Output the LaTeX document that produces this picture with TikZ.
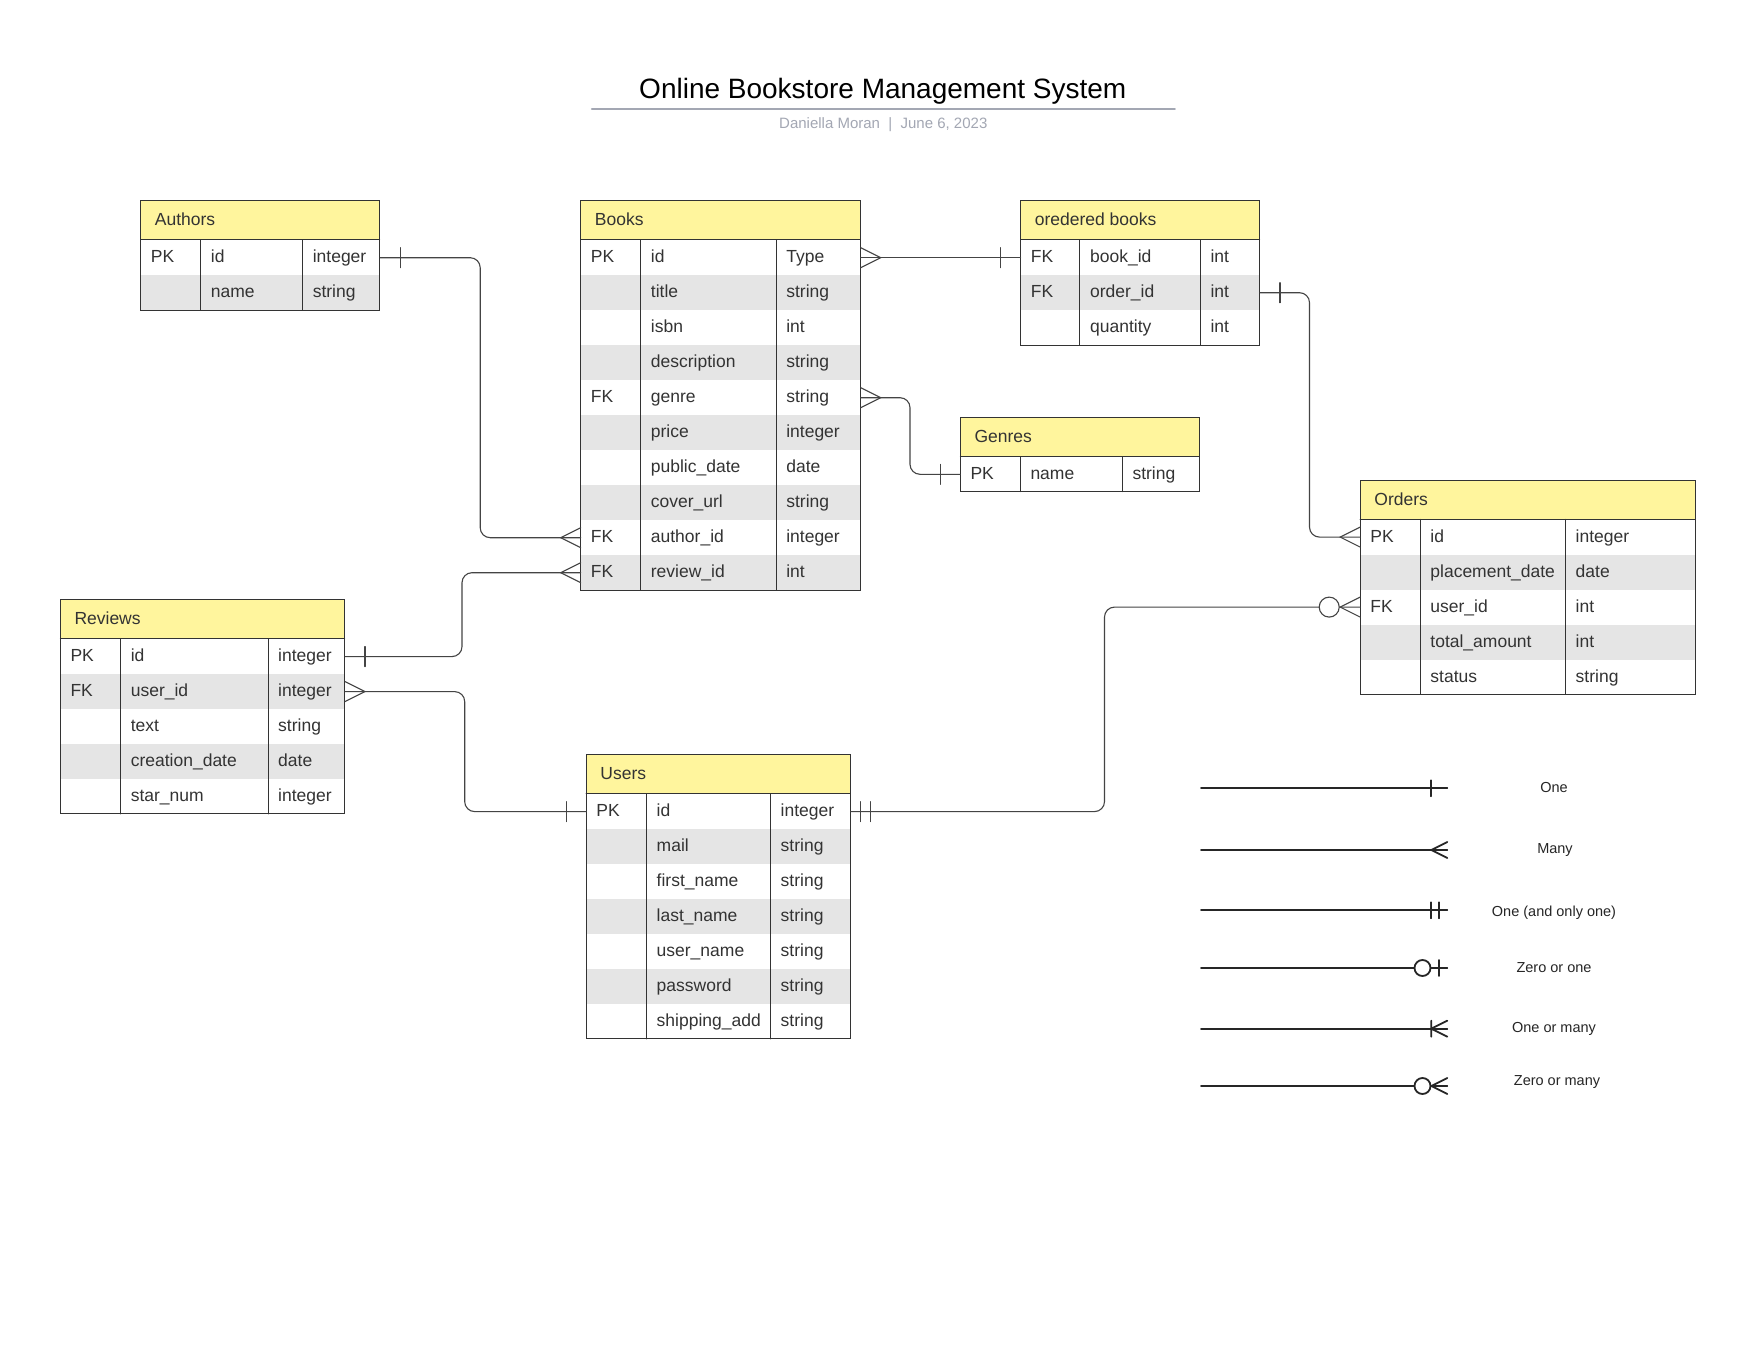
\documentclass[tikz,border=0pt]{standalone}
\usepackage{fontspec}
\setmainfont{Liberation Sans}

\definecolor{headyellow}{HTML}{FFF59D}
\definecolor{rowgray}{HTML}{E5E5E5}
\definecolor{inkgray}{HTML}{333333}
\definecolor{linkgray}{HTML}{444444}
\definecolor{rulegray}{HTML}{A3A7B3}

% Crow's foot marks, drawn from the table edge outwards along +x.
\tikzset{
    erone/.pic = {\draw[markline] (20,-10) -- (20,10);},
    eronlyone/.pic = {\draw[markline] (10,-10) -- (10,10) (20,-10) -- (20,10);},
    ermany/.pic = {\draw[markline] (0,-10) -- (20,0) -- (0,10);},
    eronemany/.pic = {\draw[markline] (0,-10) -- (20,0) -- (0,10) (20,-10) -- (20,10);},
    erzeroone/.pic = {\draw[markline] (10,-10) -- (10,10);
        \draw[markline, fill = white] (31,0) circle[radius = 10];},
    erzeromany/.pic = {\draw[markline] (0,-10) -- (20,0) -- (0,10);
        \draw[markline, fill = white] (31,0) circle[radius = 10];},
}

% Table: name, left, top, key width, field width, type width, title, rows.
\newcommand{\erdtable}[8]{%
    \pgfmathsetmacro{\erdw}{#4+#5+#6}
    \node[headbox, minimum width = \erdw pt] (#1-head) at (#2,#3) {};
    \node[celltext] (#1-title) at ([xshift = 14pt]#1-head.west) {#7};
    \foreach \key/\fld/\typ [count = \i] in {#8} {
        \ifodd\i \def\erdfill{white}\else \def\erdfill{rowgray}\fi
        \node[rowbox, fill = \erdfill, minimum width = \erdw pt] (#1-\i) at (#2,#3+39+35*\i-35) {};
        \node[celltext] (#1-\i-key) at ([xshift = 10pt]#1-\i.west) {\key};
        \node[celltext] (#1-\i-field) at ([xshift = #4pt+10pt]#1-\i.west) {\fld};
        \node[celltext] (#1-\i-type) at ([xshift = #4pt+#5pt+10pt]#1-\i.west) {\typ};
        \xdef\erdrows{\i}
    }
    \pgfmathsetmacro{\erdb}{#3+39+35*\erdrows}
    \draw[tableline] (#2+#4,#3+39) -- (#2+#4,\erdb);
    \draw[tableline] (#2+#4+#5,#3+39) -- (#2+#4+#5,\erdb);
    \draw[tableline] (#2,#3+39) -- (#2+\erdw,#3+39);
    \draw[tableline] (#2,#3) rectangle (#2+\erdw,\erdb);
}

\begin{document}
\begin{tikzpicture}[%
        x = 1pt,
        y = -1pt,
        line cap = round,
        headbox/.style = {rectangle, fill = headyellow, anchor = north west,
            minimum height = 39pt, inner sep = 0pt},
        rowbox/.style = {rectangle, anchor = north west,
            minimum height = 35pt, inner sep = 0pt},
        celltext/.style = {anchor = west, inner sep = 0pt, text = inkgray,
            font = \fontsize{17.5}{21}\selectfont,
            text height = 10pt, text depth = 0pt},
        tableline/.style = {draw = inkgray, line width = 1pt},
        relline/.style = {draw = linkgray, line width = 1.1pt, rounded corners = 10pt},
        markline/.style = {draw = linkgray, line width = 1.1pt},
        legendline/.style = {draw = black!85, line width = 1.8pt},
        legendtext/.style = {text = black!85, font = \fontsize{14.5}{17}\selectfont}
    ]

        % Page with the margins of the figure.
        \path[use as bounding box, fill = white] (0,0) rectangle (1751,1359);

        % Title block.
        \node[font = \fontsize{28}{34}\selectfont] (title) at (882.8,91.5)
            {Online Bookstore Management System};
        \draw[draw = rulegray, line width = 2pt] (591.8,109.4) -- (1174.8,109.4);
        \node[text = rulegray, font = \fontsize{15}{18}\selectfont] (byline) at (883.3,125)
            {Daniella Moran~~|~~June 6, 2023};

        % Tables.
        \erdtable{authors}{140.7}{201}{60}{101.9}{77.1}{Authors}
            {PK/id/integer, /name/string}
        \erdtable{books}{580.7}{201}{60}{135.4}{84.2}{Books}
            {PK/id/Type, /title/string, /isbn/int, /description/string,
             FK/genre/string, /price/integer, /public\_date/date,
             /cover\_url/string, FK/author\_id/integer, FK/review\_id/int}
        \erdtable{ordered}{1020.6}{201}{59.3}{120.5}{59.2}{oredered books}
            {FK/book\_id/int, FK/order\_id/int, /quantity/int}
        \erdtable{genres}{960.3}{417.6}{60}{102}{77}{Genres}
            {PK/name/string}
        \erdtable{orders}{1360.2}{480.4}{60}{145.3}{129.5}{Orders}
            {PK/id/integer, /placement\_date/date, FK/user\_id/int,
             /total\_amount/int, /status/string}
        \erdtable{reviews}{60.3}{599.9}{60.3}{147.4}{76.6}{Reviews}
            {PK/id/integer, FK/user\_id/integer, /text/string,
             /creation\_date/date, /star\_num/integer}
        \erdtable{users}{586.2}{754.9}{60.3}{124}{79.8}{Users}
            {PK/id/integer, /mail/string, /first\_name/string,
             /last\_name/string, /user\_name/string, /password/string,
             /shipping\_add/string}

        % Vertical lanes of the relationship lines.
        \coordinate (authorlane) at (480.2,0);
        \coordinate (reviewlane) at (462,0);
        \coordinate (genrelane) at (910,0);
        \coordinate (orderlane) at (1309.5,0);
        \coordinate (userlane) at (1104.5,0);
        \coordinate (writerlane) at (464.7,0);

        % Relationship lines.
        \draw[relline] (authors-1.east) -- (authors-1.east -| authorlane) |- (books-9.west);
        \draw[relline] (reviews-1.east) -- (reviews-1.east -| reviewlane) |- (books-10.west);
        \draw[relline] (books-1.east) -- (ordered-1.west);
        \draw[relline] (books-5.east) -- (books-5.east -| genrelane) |- (genres-1.west);
        \draw[relline] (ordered-2.east) -- (ordered-2.east -| orderlane) |- (orders-1.west);
        \draw[relline] (orders-3.west) -- (orders-3.west -| userlane) |- (users-1.east);
        \draw[relline] (reviews-2.east) -- (reviews-2.east -| writerlane) |- (users-1.west);

        % Ends of the relationship lines.
        \pic at (authors-1.east) {erone};
        \pic[rotate = 180] at (books-9.west) {ermany};
        \pic at (reviews-1.east) {erone};
        \pic[rotate = 180] at (books-10.west) {ermany};
        \pic at (books-1.east) {ermany};
        \pic[rotate = 180] at (ordered-1.west) {erone};
        \pic at (books-5.east) {ermany};
        \pic[rotate = 180] at (genres-1.west) {erone};
        \pic at (ordered-2.east) {erone};
        \pic[rotate = 180] at (orders-1.west) {ermany};
        \pic[rotate = 180] at (orders-3.west) {erzeromany};
        \pic at (users-1.east) {eronlyone};
        \pic at (reviews-2.east) {ermany};
        \pic[rotate = 180] at (users-1.west) {erone};

        % Legend.
        \begin{scope}[markline/.style = {legendline}]
            \coordinate (one-l) at (1201,788.3);
            \coordinate (one-r) at (1447.3,788.3);
            \draw[legendline] (one-l) -- (one-r);
            \pic[rotate = 180, scale = 0.8] at (one-r) {erone};
            \node[legendtext] (one-label) at (1554,787.3) {One};

            \coordinate (many-l) at (1201,850);
            \coordinate (many-r) at (1447.3,850);
            \draw[legendline] (many-l) -- (many-r);
            \pic[rotate = 180, scale = 0.8] at (many-r) {ermany};
            \node[legendtext] (many-label) at (1555,849.7) {Many};

            \coordinate (onlyone-l) at (1201,910.3);
            \coordinate (onlyone-r) at (1447.3,910.3);
            \draw[legendline] (onlyone-l) -- (onlyone-r);
            \pic[rotate = 180, scale = 0.8] at (onlyone-r) {eronlyone};
            \node[legendtext] (onlyone-label) at (1554,912.5) {One (and only one)};

            \coordinate (zeroone-l) at (1201,968);
            \coordinate (zeroone-r) at (1447.3,968);
            \draw[legendline] (zeroone-l) -- (zeroone-r);
            \pic[rotate = 180, scale = 0.8] at (zeroone-r) {erzeroone};
            \node[legendtext] (zeroone-label) at (1554,968) {Zero or one};

            \coordinate (onemany-l) at (1201,1028.7);
            \coordinate (onemany-r) at (1447.3,1028.7);
            \draw[legendline] (onemany-l) -- (onemany-r);
            \pic[rotate = 180, scale = 0.8] at (onemany-r) {eronemany};
            \node[legendtext] (onemany-label) at (1554,1028.7) {One or many};

            \coordinate (zeromany-l) at (1201,1086);
            \coordinate (zeromany-r) at (1447.3,1086);
            \draw[legendline] (zeromany-l) -- (zeromany-r);
            \pic[rotate = 180, scale = 0.8] at (zeromany-r) {erzeromany};
            \node[legendtext] (zeromany-label) at (1557,1081.7) {Zero or many};
        \end{scope}
    \end{tikzpicture}
\end{document}
